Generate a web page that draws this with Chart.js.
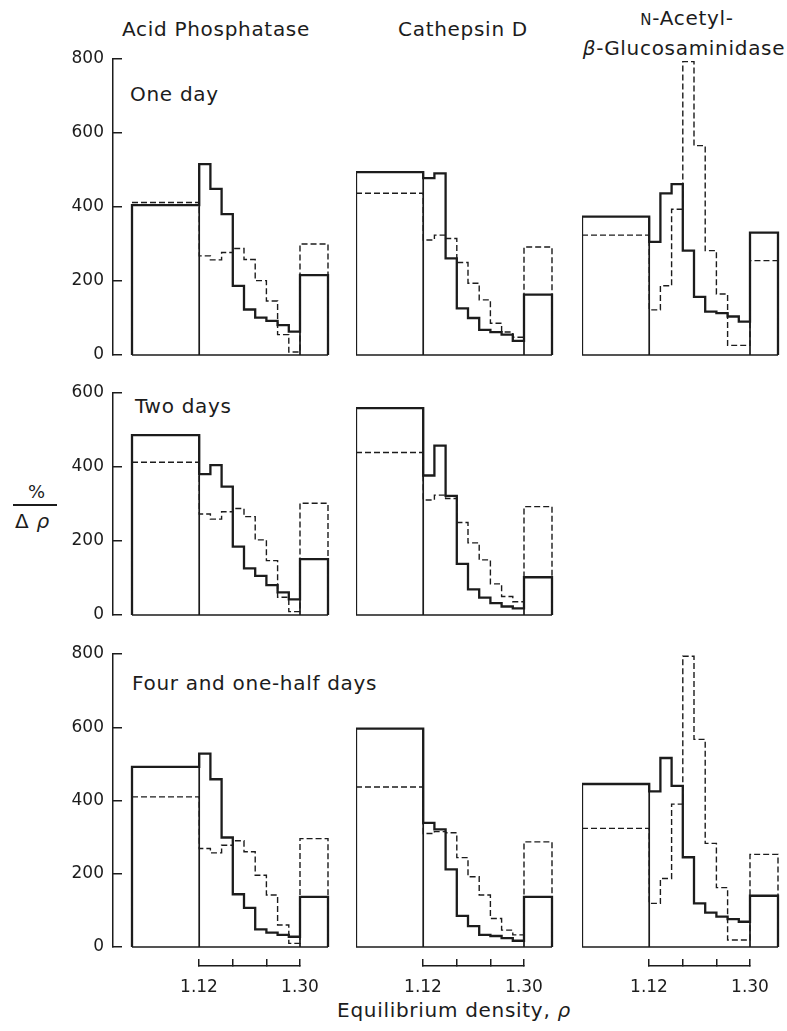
<!DOCTYPE html>
<html>
<head>
<meta charset="utf-8">
<script src="https://cdn.jsdelivr.net/npm/chart.js@4.4.0/dist/chart.umd.min.js"></script>
<style>
  body { margin: 0; width: 787px; height: 1031px; position: relative; overflow: hidden; background: #fff;
         font-family: "DejaVu Sans", sans-serif; color: #1c1c1c; }
  canvas { position: absolute; }
  .t { position: absolute; white-space: nowrap; line-height: 1; font-size: 20px; letter-spacing: 0.7px; }
  .c { width: 300px; text-align: center; }
</style>
</head>
<body>

<div class="t c" style="left:66px; top:19px;">Acid Phosphatase</div>
<div class="t c" style="left:313px; top:19px;">Cathepsin D</div>
<div class="t c" style="left:537px; top:8px;"><span style="font-size:15px">N</span>-Acetyl-</div>
<div class="t c" style="left:534px; top:38px;"><i>β</i>-Glucosaminidase</div>

<div class="t" style="left:130px; top:84px;">One day</div>
<div class="t" style="left:135px; top:396px;">Two days</div>
<div class="t" style="left:132px; top:673px;">Four and one-half days</div>

<div class="t" style="left:28px; top:483px; font-size:18px;">%</div>
<div style="position:absolute; left:13px; top:504px; width:44px; height:1.5px; background:#1c1c1c;"></div>
<div class="t" style="left:15px; top:511px; font-size:20px;">Δ <i>ρ</i></div>

<div class="t c" style="left:304px; top:1000px;">Equilibrium density, <i>ρ</i></div>

<script>
// bin edges in density units: pooled light fraction, nine 0.02 slices, pooled dense fraction
const edges = [1.00, 1.12, 1.14, 1.16, 1.18, 1.20, 1.22, 1.24, 1.26, 1.28, 1.30, 1.35];
const bracketTicks = [1.12, 1.18, 1.24, 1.30];
const bracketLabels = [1.12, 1.30];
const yTicksStep = 200;

// one day
const apDay1Solid  = [405, 516, 449, 381, 187, 123, 101, 92, 81, 63, 216];
const apDay1Dashed = [412, 268, 257, 277, 288, 258, 201, 146, 55, 8, 300];
const cdDay1Solid  = [494, 478, 491, 261, 126, 100, 68, 62, 55, 38, 163];
const cdDay1Dashed = [437, 311, 324, 315, 250, 194, 149, 86, 62, 48, 292];
const nagDay1Solid  = [374, 306, 437, 462, 282, 157, 117, 113, 104, 90, 331];
const nagDay1Dashed = [324, 122, 187, 394, 793, 566, 282, 165, 26, 26, 255];

// two days
const apDay2Solid  = [486, 381, 405, 347, 185, 126, 106, 81, 61, 42, 151];
const apDay2Dashed = [413, 273, 259, 279, 288, 266, 203, 147, 48, 9, 302];
const cdDay2Solid  = [559, 377, 458, 322, 138, 69, 47, 32, 23, 18, 102];
const cdDay2Dashed = [439, 311, 324, 315, 250, 195, 149, 84, 50, 36, 293];

// four and one-half days
const apDay4Solid  = [492, 528, 458, 299, 144, 107, 48, 39, 33, 28, 137];
const apDay4Dashed = [410, 269, 257, 278, 290, 260, 196, 142, 60, 10, 296];
const cdDay4Solid  = [596, 339, 321, 212, 85, 57, 33, 30, 24, 17, 137];
const cdDay4Dashed = [437, 310, 315, 312, 244, 192, 142, 78, 46, 33, 287];
const nagDay4Solid  = [445, 425, 516, 440, 245, 119, 94, 83, 76, 69, 140];
const nagDay4Dashed = [324, 119, 187, 390, 794, 567, 283, 162, 19, 19, 253];

const yMaxByRow = [800, 600, 800];

const panels = [
    {row: 0, col: 0, solid: apDay1Solid, dashed: apDay1Dashed},
    {row: 0, col: 1, solid: cdDay1Solid, dashed: cdDay1Dashed},
    {row: 0, col: 2, solid: nagDay1Solid, dashed: nagDay1Dashed},
    {row: 1, col: 0, solid: apDay2Solid, dashed: apDay2Dashed},
    {row: 1, col: 1, solid: cdDay2Solid, dashed: cdDay2Dashed},
    {row: 2, col: 0, solid: apDay4Solid, dashed: apDay4Dashed},
    {row: 2, col: 1, solid: cdDay4Solid, dashed: cdDay4Dashed},
    {row: 2, col: 2, solid: nagDay4Solid, dashed: nagDay4Dashed},
];

// page layout (pixels)
const ink = '#1c1c1c';
const rowBox = [{top: 59, bottom: 355}, {top: 393, bottom: 615}, {top: 654, bottom: 947}];
const colLeft = [132, 356, 582];
const axisX = 113;
const pxPerUnit = 560;
// tick padding is added to the label overflow, so keep the layout padding above it
const padT = 32, padB = 32, padR = 4, yAxisW = 60;

Chart.defaults.font.family = '"DejaVu Sans", sans-serif';
Chart.defaults.color = ink;

function makeCanvas(left, top, w, h) {
    const c = document.createElement('canvas');
    c.width = w;
    c.height = h;
    c.style.left = left + 'px';
    c.style.top = top + 'px';
    c.style.width = w + 'px';
    c.style.height = h + 'px';
    document.body.appendChild(c);
    return c;
}

// outline of a histogram as a closed step path
function stepPoints(vals, fromZero) {
    const pts = fromZero ? [{x: edges[0], y: 0}] : [];
    vals.forEach((v, i) => {
        pts.push({x: edges[i], y: v});
        pts.push({x: edges[i + 1], y: v});
    });
    pts.push({x: edges[edges.length - 1], y: 0});
    return pts;
}

// baseline plus the full-height walls of the two pooled fractions
function framePoints(vals) {
    const n = vals.length;
    return [
        {x: edges[0], y: 0}, {x: edges[n], y: 0},
        {x: edges[1], y: null},
        {x: edges[1], y: 0}, {x: edges[1], y: Math.max(vals[0], vals[1])},
        {x: edges[n - 1], y: null},
        {x: edges[n - 1], y: 0}, {x: edges[n - 1], y: Math.max(vals[n - 2], vals[n - 1])},
    ];
}

function lineSet(data, width, dash) {
    return {
        data: data,
        showLine: true,
        borderColor: ink,
        borderWidth: width,
        borderDash: dash,
        borderJoinStyle: 'miter',
        pointRadius: 0,
        spanGaps: false,
        tension: 0,
        clip: false,
    };
}

panels.forEach((p) => {
    const box = rowBox[p.row];
    const withAxis = p.col === 0;
    const yW = withAxis ? yAxisW : 0;
    const chartLeft = withAxis ? axisX : colLeft[p.col];
    const xMin = edges[0] - (colLeft[p.col] - chartLeft) / pxPerUnit;
    const chartW = colLeft[p.col] + (edges[edges.length - 1] - edges[0]) * pxPerUnit - chartLeft;
    const w = Math.round(yW + chartW + padR);
    const h = box.bottom - box.top + padT + padB;
    const canvas = makeCanvas(chartLeft - yW, box.top - padT, w, h);

    new Chart(canvas, {
        type: 'scatter',
        data: {
            datasets: [
                lineSet(stepPoints(p.dashed, false), 1.4, [6, 3]),
                lineSet(framePoints(p.solid), 1.7, []),
                lineSet(stepPoints(p.solid, true), 2.3, []),
            ]
        },
        options: {
            responsive: false,
            animation: false,
            events: [],
            layout: {padding: {top: padT, bottom: padB, left: 0, right: padR}},
            plugins: {legend: {display: false}, tooltip: {enabled: false}},
            scales: {
                x: {type: 'linear', min: xMin, max: edges[edges.length - 1], display: false},
                y: {
                    type: 'linear',
                    min: 0,
                    max: yMaxByRow[p.row],
                    display: withAxis,
                    afterFit: (s) => { s.width = yW; },
                    ticks: {stepSize: yTicksStep, color: ink, font: {size: 17}, padding: 18},
                    grid: {drawOnChartArea: false, drawTicks: true, tickLength: -9, color: ink, lineWidth: 1.5},
                    border: {display: true, color: ink, width: 1.5},
                },
            },
        },
    });
});

// density brackets under the bottom row
colLeft.forEach((left) => {
    const padLR = 50, top = 930, axisH = 40, bottom = 966;
    const x0 = left + (bracketTicks[0] - edges[0]) * pxPerUnit;
    const bw = (bracketTicks[bracketTicks.length - 1] - bracketTicks[0]) * pxPerUnit;
    const canvas = makeCanvas(Math.round(x0 - padLR), top, Math.round(bw + 2 * padLR), bottom - top + axisH);
    new Chart(canvas, {
        type: 'scatter',
        data: {datasets: []},
        options: {
            responsive: false,
            animation: false,
            events: [],
            layout: {padding: {top: 0, bottom: 0, left: padLR, right: padLR}},
            plugins: {legend: {display: false}, tooltip: {enabled: false}},
            scales: {
                x: {
                    type: 'linear',
                    min: bracketTicks[0],
                    max: bracketTicks[bracketTicks.length - 1],
                    position: 'bottom',
                    afterFit: (s) => { s.height = axisH; },
                    afterBuildTicks: (s) => { s.ticks = bracketTicks.map((v) => ({value: v})); },
                    ticks: {
                        color: ink, font: {size: 17}, padding: 18, maxRotation: 0, autoSkip: false,
                        callback: (v) => (bracketLabels.includes(v) ? v.toFixed(2) : ''),
                    },
                    grid: {drawOnChartArea: false, tickLength: -7, color: ink, lineWidth: 1.5},
                    border: {display: true, color: ink, width: 1.5},
                },
                y: {display: false, min: 0, max: 1},
            },
        },
    });
});
</script>
</body>
</html>
